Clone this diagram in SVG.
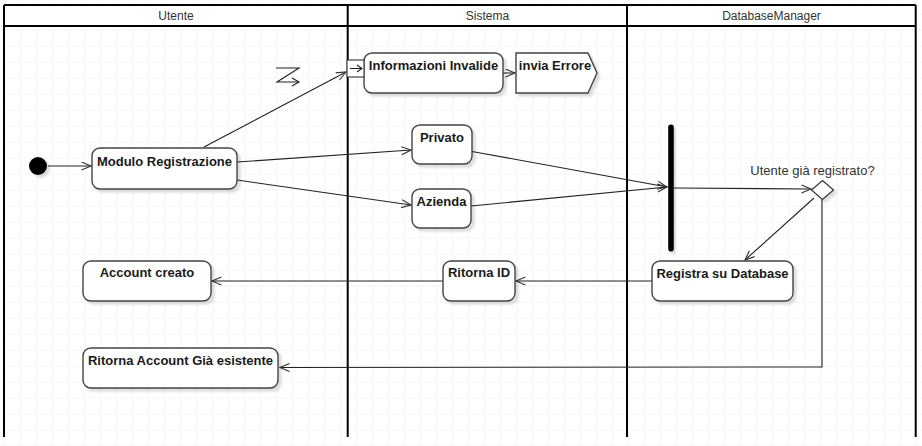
<svg xmlns="http://www.w3.org/2000/svg" width="922" height="446" viewBox="0 0 922 446">
  <defs>
    <pattern id="grid" patternUnits="userSpaceOnUse" x="4.5" y="13.5" width="16" height="16">
      <path d="M0 0 V16 M0 0 H16" fill="none" stroke="#ebebeb" stroke-width="1"/>
    </pattern>
    <filter id="shadow" x="-20%" y="-10%" width="150%" height="140%">
      <feDropShadow dx="3" dy="3" stdDeviation="1.2" flood-color="#000" flood-opacity="0.13"/>
    </filter>
    <marker id="open" markerUnits="userSpaceOnUse" markerWidth="12" markerHeight="10" refX="10" refY="4.5" orient="auto">
      <path d="M0.5,0.5 L10,4.5 L0.5,8.5" fill="none" stroke="#333" stroke-width="1.1"/>
    </marker>
    <style>
      .lane { fill: none; stroke: #000; stroke-width: 2; }
      .head { font-family: "Liberation Sans", Arial, sans-serif; font-size: 12px; fill: #333; text-anchor: middle; }
      .act { fill: #fff; stroke: #444; stroke-width: 1.4; filter: url(#shadow); }
      .lbl { font-family: "Liberation Sans", Arial, sans-serif; font-size: 13px; font-weight: bold; fill: #1a1a1a; text-anchor: middle; }
      .note { font-family: "Liberation Sans", Arial, sans-serif; font-size: 13px; fill: #333; text-anchor: middle; }
      .edge { fill: none; stroke: #222; stroke-width: 1.1; marker-end: url(#open); }
      .plain { fill: none; stroke: #222; stroke-width: 1.1; }
    </style>
  </defs>

  <!-- canvas and grid -->
  <rect x="0" y="0" width="922" height="446" fill="#fff"/>
  <rect x="0" y="0" width="922" height="446" fill="url(#grid)"/>

  <!-- swimlane pool -->
  <g id="pool">
    <rect x="4" y="5" width="911.7" height="21" fill="#fff"/>
    <path class="lane" d="M4 5 H915.7 M4 26 H915.7 M4 5 V437 M347.7 5 V437 M627 5 V437 M915.7 5 V437"/>
    <text class="head" x="176" y="20">Utente</text>
    <text class="head" x="487.5" y="20">Sistema</text>
    <text class="head" x="771.5" y="20">DatabaseManager</text>
  </g>

  <!-- connectors -->
  <g id="connectors">
    <line class="edge" x1="48" y1="166" x2="91" y2="166"/>
    <line class="edge" x1="204" y1="147" x2="346" y2="72"/>
    <line class="edge" x1="237" y1="162" x2="411" y2="150"/>
    <line class="edge" x1="237" y1="180" x2="411" y2="205"/>
    <line class="edge" x1="503" y1="73" x2="515" y2="73"/>
    <line class="edge" x1="472" y1="151.5" x2="667" y2="187"/>
    <line class="edge" x1="471" y1="206" x2="667" y2="187"/>
    <line class="edge" x1="674" y1="188" x2="811" y2="189"/>
    <line class="edge" x1="814" y1="198" x2="745" y2="260"/>
    <polyline class="edge" points="822,199.5 822,367 280,367.5"/>
    <line class="edge" x1="652" y1="281" x2="516" y2="281"/>
    <line class="edge" x1="443" y1="281" x2="212" y2="281"/>
  </g>

  <!-- interrupting edge symbol -->
  <g id="interrupt">
    <path class="plain" d="M276 68 H299 L277 82 H299"/>
    <path class="plain" d="M292 78 L299 82 L292 86"/>
  </g>

  <g id="start">
    <circle cx="38" cy="166" r="9" fill="#000" filter="url(#shadow)"/>
  </g>

  <g id="modulo-registrazione">
    <rect class="act" x="92" y="148" width="145" height="41" rx="8"/>
    <text class="lbl" x="164.5" y="166">Modulo Registrazione</text>
  </g>

  <g id="informazioni-invalide">
    <rect class="act" x="364" y="53" width="139" height="40" rx="8"/>
    <text class="lbl" x="433.5" y="70">Informazioni Invalide</text>
    <!-- input pin on the lane border -->
    <rect x="347" y="60" width="17" height="17" fill="#fff" stroke="#444" stroke-width="1.2"/>
    <path class="plain" d="M350 68.5 H362 M357 65 L362 68.5 L357 72"/>
  </g>

  <g id="invia-errore">
    <polygon class="act" points="516,53 588,53 597,73 588,93 516,93"/>
    <text class="lbl" x="555" y="70">invia Errore</text>
  </g>

  <g id="privato">
    <rect class="act" x="412" y="125" width="60" height="39" rx="8"/>
    <text class="lbl" x="442" y="142">Privato</text>
  </g>

  <g id="azienda">
    <rect class="act" x="412" y="189" width="59" height="39" rx="8"/>
    <text class="lbl" x="441.5" y="206">Azienda</text>
  </g>

  <g id="fork">
    <rect x="668.2" y="124.5" width="5.6" height="127" rx="2.8" fill="#000" filter="url(#shadow)"/>
  </g>

  <g id="decision">
    <polygon points="811.5,190 822.5,180.5 833.5,190 822.5,199.5" fill="#fff" stroke="#333" stroke-width="1.2" filter="url(#shadow)"/>
    <text class="note" x="812.5" y="175">Utente già registrato?</text>
  </g>

  <g id="registra-su-database">
    <rect class="act" x="652" y="261" width="141" height="40" rx="8"/>
    <text class="lbl" x="722.5" y="278">Registra su Database</text>
  </g>

  <g id="ritorna-id">
    <rect class="act" x="443" y="261" width="72" height="40" rx="8"/>
    <text class="lbl" x="479" y="277">Ritorna ID</text>
  </g>

  <g id="account-creato">
    <rect class="act" x="83" y="261" width="128" height="40" rx="8"/>
    <text class="lbl" x="147" y="277">Account creato</text>
  </g>

  <g id="ritorna-account-esistente">
    <rect class="act" x="83" y="348" width="195" height="40" rx="8"/>
    <text class="lbl" x="180.5" y="365">Ritorna Account Già esistente</text>
  </g>
</svg>
